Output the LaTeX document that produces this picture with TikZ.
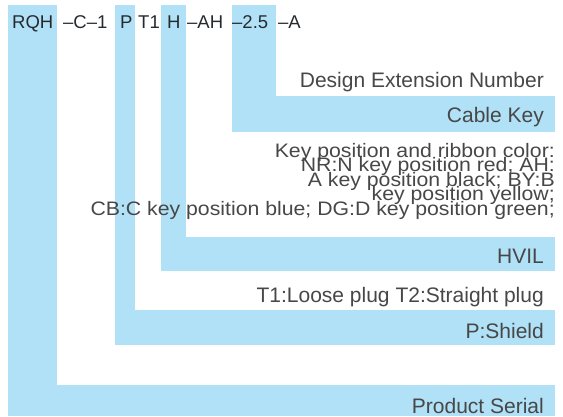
\documentclass[tikz,border=0pt]{standalone}
\usepackage{fontspec}
\setmainfont{Liberation Sans}
\definecolor{bandblue}{HTML}{B0E1F7}
\definecolor{codetxt}{HTML}{262A2E}
\definecolor{labtxt}{HTML}{474747}
\newcommand{\keytxt}[1]{\scalebox{1.09}[1]{#1}}
\begin{document}
\begin{tikzpicture}[x=1pt,y=-1pt,
  band/.style={fill=bandblue,draw=none},
  code/.style={inner sep=0pt,anchor=base west,text=codetxt,font=\fontsize{18.5}{20}\selectfont},
  lab/.style={inner sep=0pt,anchor=base east,text=labtxt,font=\fontsize{21}{24}\selectfont},
  keyline/.style={inner sep=0pt,anchor=base east,text=labtxt,font=\fontsize{19.5}{14}\selectfont}]
\useasboundingbox (0,0) rectangle (563,416);
% L-shaped bands
\fill[band] (8,5) rectangle (57,416);
\fill[band] (8,385) rectangle (555,416);
\fill[band] (115,5) rectangle (135,345);
\fill[band] (115,310) rectangle (555,345);
\fill[band] (161,5) rectangle (186,271);
\fill[band] (161,237) rectangle (555,271);
\fill[band] (232,5) rectangle (276,132);
\fill[band] (232,96) rectangle (555,132);
% code line
\node[code] (c1) at (12,28) {RQH};
\node[code] (c2) at (63,28) {–C–1};
\node[code] (c3) at (120,28) {P};
\node[code] (c4) at (138,28) {T1};
\node[code] (c5) at (167,28) {H};
\node[code] (c6) at (187,28) {–AH};
\node[code] (c7) at (232,28) {–2.5};
\node[code] (c8) at (278,28) {–A};
% labels
\node[lab] (l1) at (544,87) {Design Extension Number};
\node[lab] (l2) at (544,122) {Cable Key};
\node[keyline] (k1) at (555,157) {\keytxt{Key position and ribbon color:}};
\node[keyline] (k2) at (555,171.5) {\keytxt{NR:N key position red; AH:}};
\node[keyline] (k3) at (555,186) {\keytxt{A key position black; BY:B}};
\node[keyline] (k4) at (555,200.5) {\keytxt{key position yellow;}};
\node[keyline] (k5) at (555,215) {\keytxt{CB:C key position blue; DG:D key position green;}};
\node[lab] (l3) at (544,263) {HVIL};
\node[lab] (l4) at (544,302) {T1:Loose plug T2:Straight plug};
\node[lab] (l5) at (544,338) {P:Shield};
\node[lab] (l6) at (544,413) {Product Serial};
\end{tikzpicture}
\end{document}
